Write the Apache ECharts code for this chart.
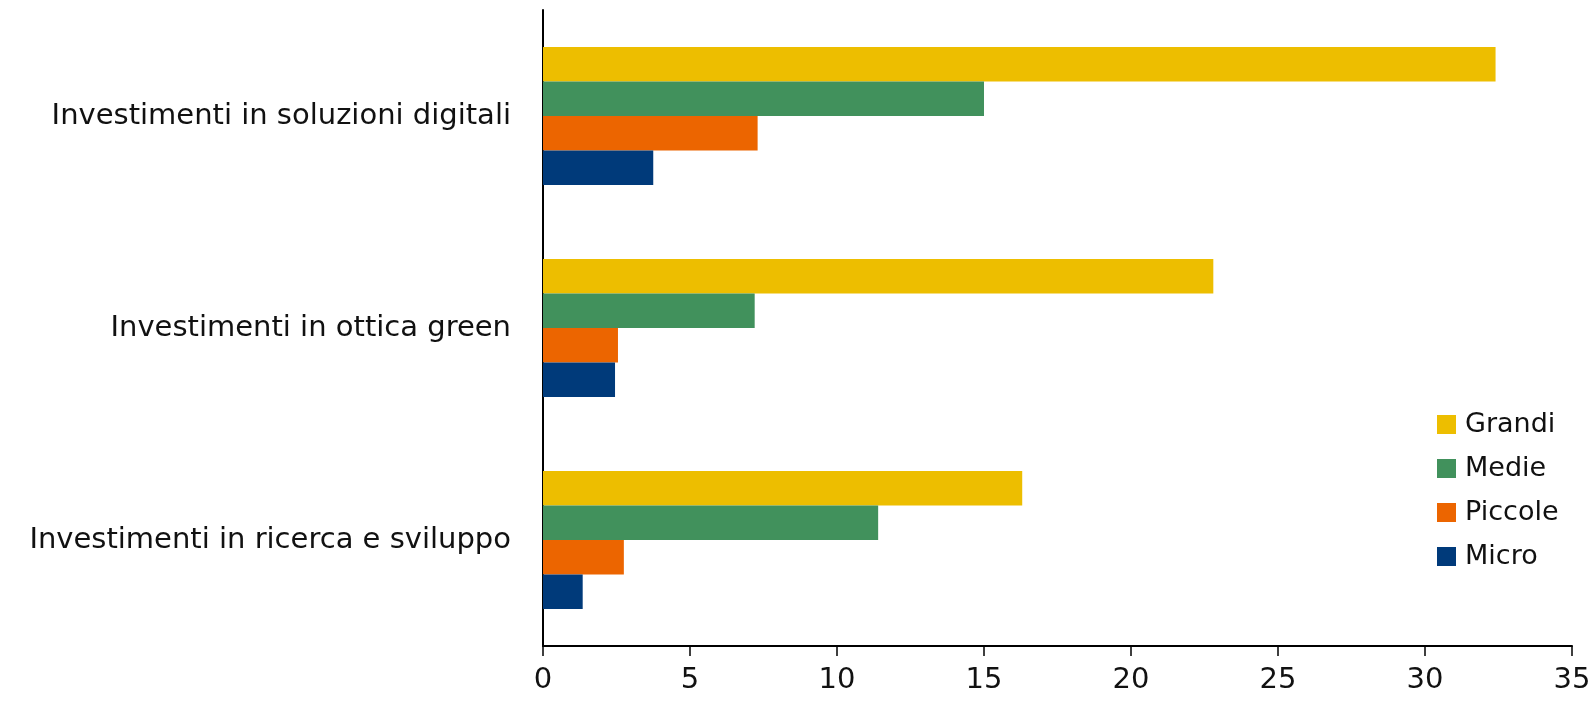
<!DOCTYPE html>
<html>
<head>
<meta charset="utf-8">
<script src="https://cdn.jsdelivr.net/npm/echarts@6/dist/echarts.min.js"></script>
<style>
html,body{margin:0;padding:0;background:#fff;}
#chart{width:1594px;height:701px;}
</style>
</head>
<body>
<div id="chart"></div>
<script>
var categories = ['Investimenti in soluzioni digitali', 'Investimenti in ottica green', 'Investimenti in ricerca e sviluppo'];
var seriesNames = ['Grandi', 'Medie', 'Piccole', 'Micro'];
var grandi = [32.4, 22.8, 16.3];
var medie = [15.0, 7.2, 11.4];
var piccole = [7.3, 2.55, 2.75];
var micro = [3.75, 2.45, 1.35];
var xTicks = [0, 5, 10, 15, 20, 25, 30, 35];

var colors = ['#EDBE00', '#41915C', '#EC6500', '#003A7A'];
var values = [grandi, medie, piccole, micro];
var FONT = 'DejaVu Sans';

var chart = echarts.init(document.getElementById('chart'));
chart.setOption({
  animation: false,
  textStyle: { fontFamily: FONT },
  grid: { left: 543, right: 22, top: 10, bottom: 55, containLabel: false },
  legend: {
    orient: 'vertical',
    left: 1432,
    top: 406,
    itemWidth: 19,
    itemHeight: 19,
    itemGap: 17,
    icon: 'rect',
    data: seriesNames,
    textStyle: { fontFamily: FONT, fontSize: 27, color: '#111', padding: [0, 0, 0, 4] }
  },
  xAxis: {
    type: 'value',
    min: xTicks[0],
    max: xTicks[xTicks.length - 1],
    interval: 5,
    splitLine: { show: false },
    axisLine: { show: true, lineStyle: { color: '#000', width: 2 } },
    axisTick: { show: true, length: 10, lineStyle: { color: '#000', width: 1.5 } },
    axisLabel: { fontFamily: FONT, fontSize: 29, color: '#111', margin: 20 }
  },
  yAxis: {
    type: 'category',
    inverse: true,
    data: categories,
    axisLine: { show: true, lineStyle: { color: '#000', width: 2 } },
    axisTick: { show: false },
    axisLabel: { fontFamily: FONT, fontSize: 29, color: '#111', margin: 32 }
  },
  series: seriesNames.map(function (name, i) {
    return {
      name: name,
      type: 'bar',
      data: values[i],
      barGap: '0%',
      barCategoryGap: '35%',
      itemStyle: { color: colors[i] }
    };
  })
});
</script>
</body>
</html>
